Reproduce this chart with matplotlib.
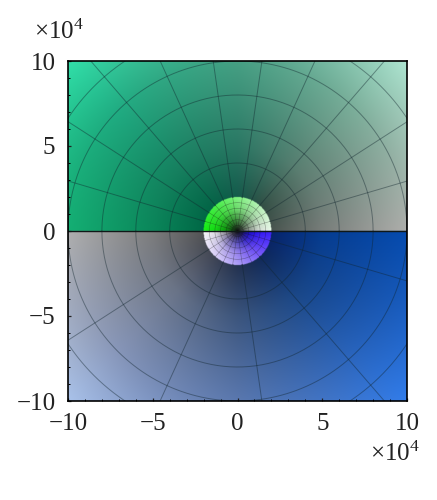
import numpy as np
import matplotlib
matplotlib.use("Agg")
import matplotlib.pyplot as plt

plt.rcParams['font.family'] = ['Liberation Serif', 'DejaVu Serif']
plt.rcParams['mathtext.fontset'] = 'custom'
plt.rcParams['mathtext.rm'] = 'Liberation Serif'
plt.rcParams['mathtext.it'] = 'Liberation Serif'

# colours: rows are radii, columns are angles
angles = [0, 45, 90, 135, 180]
outer_radii = [2, 5, 10, 14.2]
inner_radii = [0, 0.7, 1.3, 2]

upper_outer = np.array([
    [(75, 85, 80), (50, 78, 68), (20, 90, 75), (3, 100, 70), (0, 105, 70)],
    [(120, 125, 122), (90, 125, 112), (42, 120, 100), (22, 128, 95), (10, 135, 90)],
    [(175, 175, 172), (125, 175, 155), (70, 160, 132), (32, 172, 130), (20, 175, 115)],
    [(220, 225, 220), (175, 230, 210), (110, 205, 175), (50, 225, 170), (30, 215, 145)],
])
lower_outer = np.array([
    [(85, 85, 85), (65, 70, 85), (35, 50, 80), (15, 40, 90), (5, 35, 110)],
    [(125, 125, 125), (105, 115, 135), (60, 85, 125), (25, 70, 135), (5, 60, 145)],
    [(175, 175, 175), (135, 150, 185), (90, 120, 175), (40, 100, 190), (5, 75, 175)],
    [(215, 215, 215), (170, 195, 235), (120, 155, 225), (50, 125, 235), (10, 95, 215)],
])
upper_inner = np.array([
    [(20, 30, 20)] * 5,
    [(150, 155, 150), (110, 150, 110), (70, 150, 70), (40, 150, 40), (10, 150, 10)],
    [(215, 220, 215), (165, 215, 165), (110, 215, 110), (60, 215, 60), (15, 215, 15)],
    [(235, 250, 235), (190, 245, 190), (130, 245, 130), (70, 240, 70), (20, 240, 20)],
])
lower_inner = np.array([
    [(20, 20, 30)] * 5,
    [(150, 150, 150), (120, 110, 170), (90, 80, 190), (55, 40, 200), (25, 10, 200)],
    [(225, 225, 225), (190, 180, 230), (150, 130, 235), (100, 70, 240), (45, 20, 240)],
    [(250, 250, 250), (225, 215, 250), (175, 160, 250), (120, 90, 250), (60, 30, 250)],
])

# grid lines
outer_rings = [4, 6, 8, 10, 12]
inner_rings = [1 / 3, 2 / 3, 1, 4 / 3, 5 / 3]
upper_spokes = [16.36 * k for k in range(1, 11)]
lower_spokes = [-16.36, -49.09, -81.82, -114.55, -147.27]
inner_spokes = [16.36 * k for k in range(1, 11)]
ticks = [-10, -5, 0, 5, 10]


def lookup(r, ang, radii, table):
    ri = np.interp(r, radii, np.arange(len(radii)))
    ai = np.interp(ang, angles, np.arange(len(angles)))
    r0 = np.minimum(ri.astype(int), len(radii) - 2)
    a0 = np.minimum(ai.astype(int), len(angles) - 2)
    fr = (ri - r0)[..., None]
    fa = (ai - a0)[..., None]
    low = table[r0, a0] * (1 - fa) + table[r0, a0 + 1] * fa
    high = table[r0 + 1, a0] * (1 - fa) + table[r0 + 1, a0 + 1] * fa
    return low * (1 - fr) + high * fr


# colour field
xs = np.linspace(-10, 10, 680)
ys = np.linspace(10, -10, 680)
X, Y = np.meshgrid(xs, ys)
R = np.hypot(X, Y)
T = np.degrees(np.arctan2(Y, X))
up = Y >= 0
A = np.where(up, T, T + 180)

img = np.where(up[..., None], lookup(R, A, outer_radii, upper_outer),
               lookup(R, A, outer_radii, lower_outer))
disc = np.where(up[..., None], lookup(R, A, inner_radii, upper_inner),
                lookup(R, A, inner_radii, lower_inner))
img = np.where((R <= 2)[..., None], disc, img) / 255

fig = plt.figure(figsize=(4.37, 5.0), dpi=100)
ax = fig.add_axes([68 / 437, 1 - 401 / 500, 339 / 437, 340 / 500])
ax.imshow(img, extent=[-10, 10, -10, 10], interpolation='bilinear', aspect='auto', zorder=1)

line_kw = dict(color='#10242c', lw=0.7, alpha=0.42, zorder=2)
thin_kw = dict(color='#101010', lw=0.45, alpha=0.35, zorder=2)

t_up = np.radians(np.linspace(0, 180, 200))
t_low = np.radians(np.linspace(-180, 0, 200))
for r in outer_rings:
    ax.plot(r * np.cos(t_up), r * np.sin(t_up), **line_kw)
    ax.plot(r * np.cos(t_low), r * np.sin(t_low), **line_kw)
for a in upper_spokes + lower_spokes:
    c, s = np.cos(np.radians(a)), np.sin(np.radians(a))
    ax.plot([2 * c, 20 * c], [2 * s, 20 * s], **line_kw)

for r in inner_rings:
    ax.plot(r * np.cos(t_up), r * np.sin(t_up), **thin_kw)
    ax.plot(r * np.cos(t_low), r * np.sin(t_low), **thin_kw)
for a in inner_spokes:
    for sign in (1, -1):
        c, s = np.cos(np.radians(a)), sign * np.sin(np.radians(a))
        ax.plot([0, 2 * c], [0, 2 * s], **thin_kw)

ax.axhline(0, color='#101818', lw=1.0, zorder=3)

ax.set_xlim(-10, 10)
ax.set_ylim(-10, 10)
ax.set_xticks(ticks)
ax.set_yticks(ticks)
ax.set_xticks(np.arange(-10, 11), minor=True)
ax.set_yticks(np.arange(-10, 11), minor=True)
ax.tick_params(which='major', direction='in', length=2.5, width=0.9, labelsize=18, pad=9, colors='#222222')
ax.tick_params(which='minor', direction='in', length=1.2, width=0.7)
for spine in ax.spines.values():
    spine.set_linewidth(1.2)
    spine.set_zorder(5)

fig.text(34 / 437, 1 - 39 / 500, r'$\times 10^{4}$', fontsize=18, color='#222222')
fig.text(370 / 437, 1 - 461 / 500, r'$\times 10^{4}$', fontsize=18, color='#222222')

fig.savefig('out.png', dpi=100)
